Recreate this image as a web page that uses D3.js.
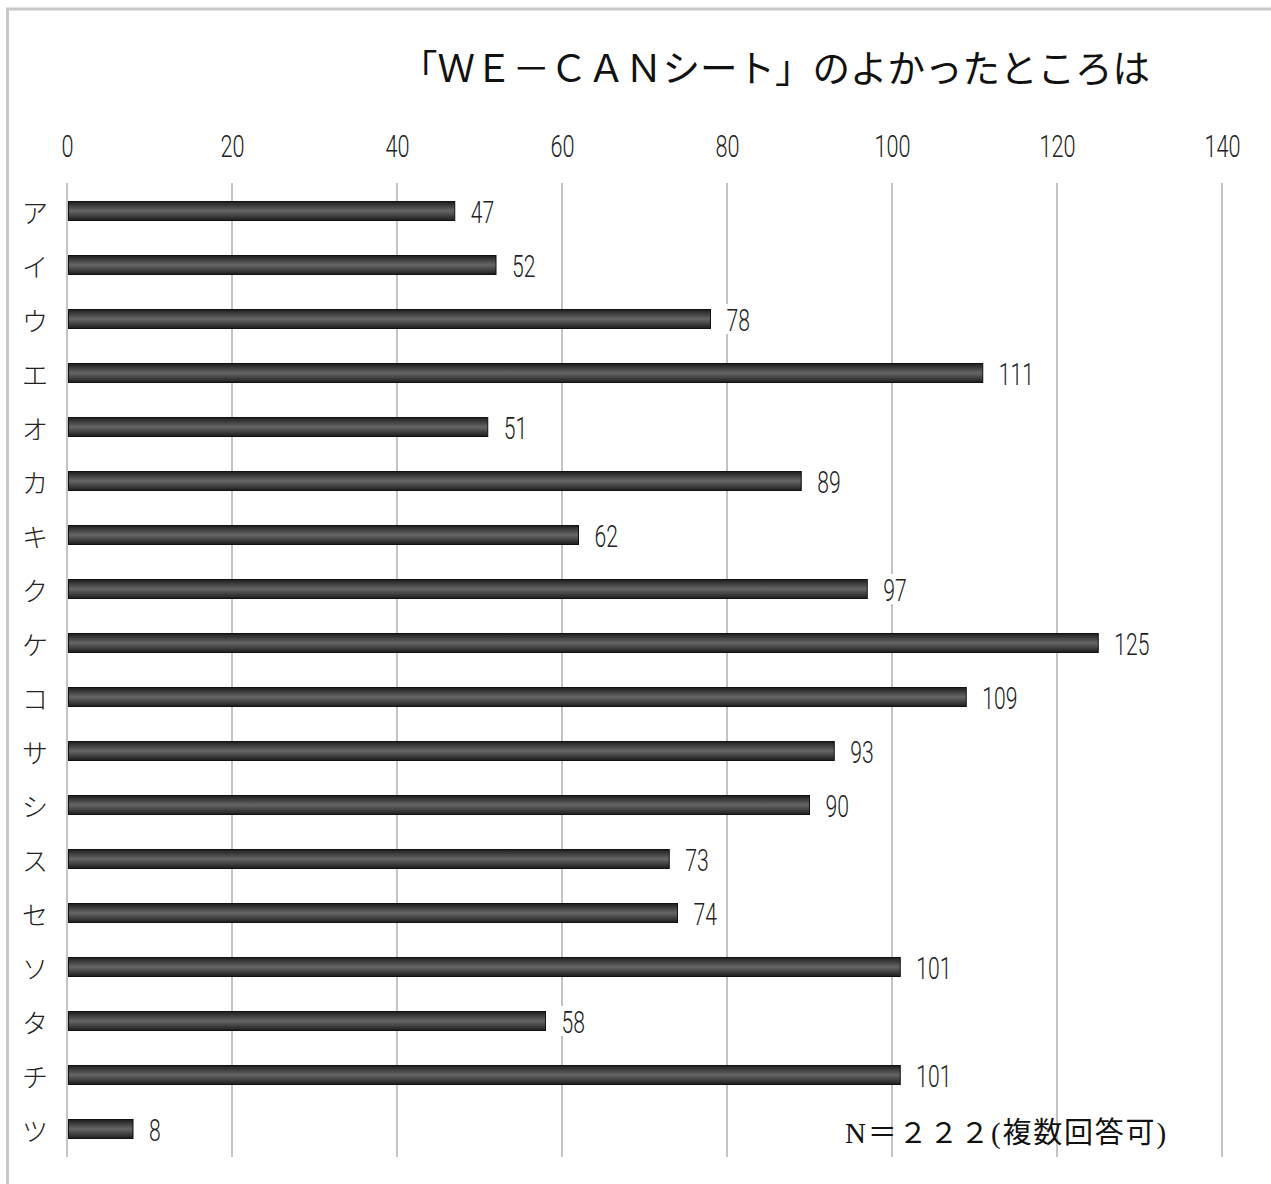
<!DOCTYPE html>
<html>
<head>
<meta charset="utf-8">
<script src="https://cdn.jsdelivr.net/npm/d3@7"></script>
<style>
  html, body { margin: 0; padding: 0; background: #fff; }
  svg { display: block; }
</style>
</head>
<body>
<div id="chart"></div>
<script>
const title = "「ＷＥ－ＣＡＮシート」のよかったところは";
const categories = ["ア","イ","ウ","エ","オ","カ","キ","ク","ケ","コ","サ","シ","ス","セ","ソ","タ","チ","ツ"];
const values = [47, 52, 78, 111, 51, 89, 62, 97, 125, 109, 93, 90, 73, 74, 101, 58, 101, 8];
const tickValues = [0, 20, 40, 60, 80, 100, 120, 140];
const note = "N＝２２２(複数回答可)";

const W = 1271, H = 1184;
const svg = d3.select("#chart").append("svg").attr("width", W).attr("height", H);

const defs = svg.append("defs");
const grad = defs.append("linearGradient").attr("id", "barGrad")
  .attr("x1", 0).attr("y1", 0).attr("x2", 0).attr("y2", 1);
grad.append("stop").attr("offset", "0%").attr("stop-color", "#1c1c1c");
grad.append("stop").attr("offset", "25%").attr("stop-color", "#424242");
grad.append("stop").attr("offset", "50%").attr("stop-color", "#666");
grad.append("stop").attr("offset", "75%").attr("stop-color", "#424242");
grad.append("stop").attr("offset", "100%").attr("stop-color", "#1c1c1c");

// outer border
svg.append("rect").attr("x", 7.5).attr("y", 9).attr("width", 1400).attr("height", 1400)
  .attr("fill", "none").attr("stroke", "#c8c8c8").attr("stroke-width", 3);

const x = d3.scaleLinear().domain([0, 140]).range([67, 1222]);
const y = d3.scalePoint().domain(categories).range([211, 1129]);
const barH = 19;
const gridTop = 183, gridBottom = 1157;
const digitFont = "Roboto, 'Liberation Sans', sans-serif";

// gridlines
svg.append("g").selectAll("line").data(tickValues).join("line")
  .attr("x1", d => x(d)).attr("x2", d => x(d))
  .attr("y1", gridTop).attr("y2", gridBottom)
  .attr("stroke", "#c4c4c4").attr("stroke-width", 2);

// top axis labels
const axis = d3.axisTop(x).tickValues(tickValues).tickSize(0).tickPadding(0);
const gAxis = svg.append("g").attr("transform", "translate(0,157)").call(axis);
gAxis.select(".domain").remove();
gAxis.selectAll("text")
  .attr("font-family", digitFont)
  .attr("font-size", 31).attr("font-weight", 300).attr("fill", "#222").attr("dy", 0)
  .attr("transform", "scale(0.7,1)");

// category labels
svg.append("g").selectAll("text").data(categories).join("text")
  .attr("x", 35).attr("y", d => y(d))
  .attr("text-anchor", "middle").attr("dominant-baseline", "central")
  .attr("font-family", "'Noto Sans CJK JP', sans-serif").attr("font-weight", 300)
  .attr("font-size", 26).attr("fill", "#222")
  .text(d => d);

const data = categories.map((c, i) => ({ c, v: values[i] }));

// bars
svg.append("g").selectAll("rect").data(data).join("rect")
  .attr("x", x(0) + 1.5).attr("y", d => y(d.c) - barH / 2)
  .attr("width", d => x(d.v) - x(0) - 1.5).attr("height", barH)
  .attr("fill", "url(#barGrad)").attr("stroke", "#111").attr("stroke-width", 1);

// value labels with white background
const labels = svg.append("g").selectAll("g").data(data).join("g")
  .attr("transform", d => `translate(${x(d.v) + 16},${y(d.c)})`);
labels.append("rect").attr("x", -2).attr("y", -15).attr("height", 30)
  .attr("width", d => String(d.v).length * 12 + 4).attr("fill", "#fff");
labels.append("text")
  .attr("dominant-baseline", "central").attr("y", 1)
  .attr("font-family", digitFont).attr("font-weight", 300)
  .attr("font-size", 32).attr("fill", "#222")
  .attr("transform", "scale(0.66,1)")
  .text(d => d.v);

// title
svg.append("text").attr("x", 775).attr("y", 82).attr("text-anchor", "middle")
  .attr("font-family", "'Noto Sans CJK JP', sans-serif").attr("font-size", 37.5)
  .attr("fill", "#111").text(title);

// note
svg.append("text").attr("x", 845).attr("y", 1143)
  .attr("font-family", "'Liberation Serif', 'Noto Sans CJK JP', serif")
  .attr("font-size", 29).attr("letter-spacing", 1.8).attr("fill", "#111").text(note);
</script>
</body>
</html>
